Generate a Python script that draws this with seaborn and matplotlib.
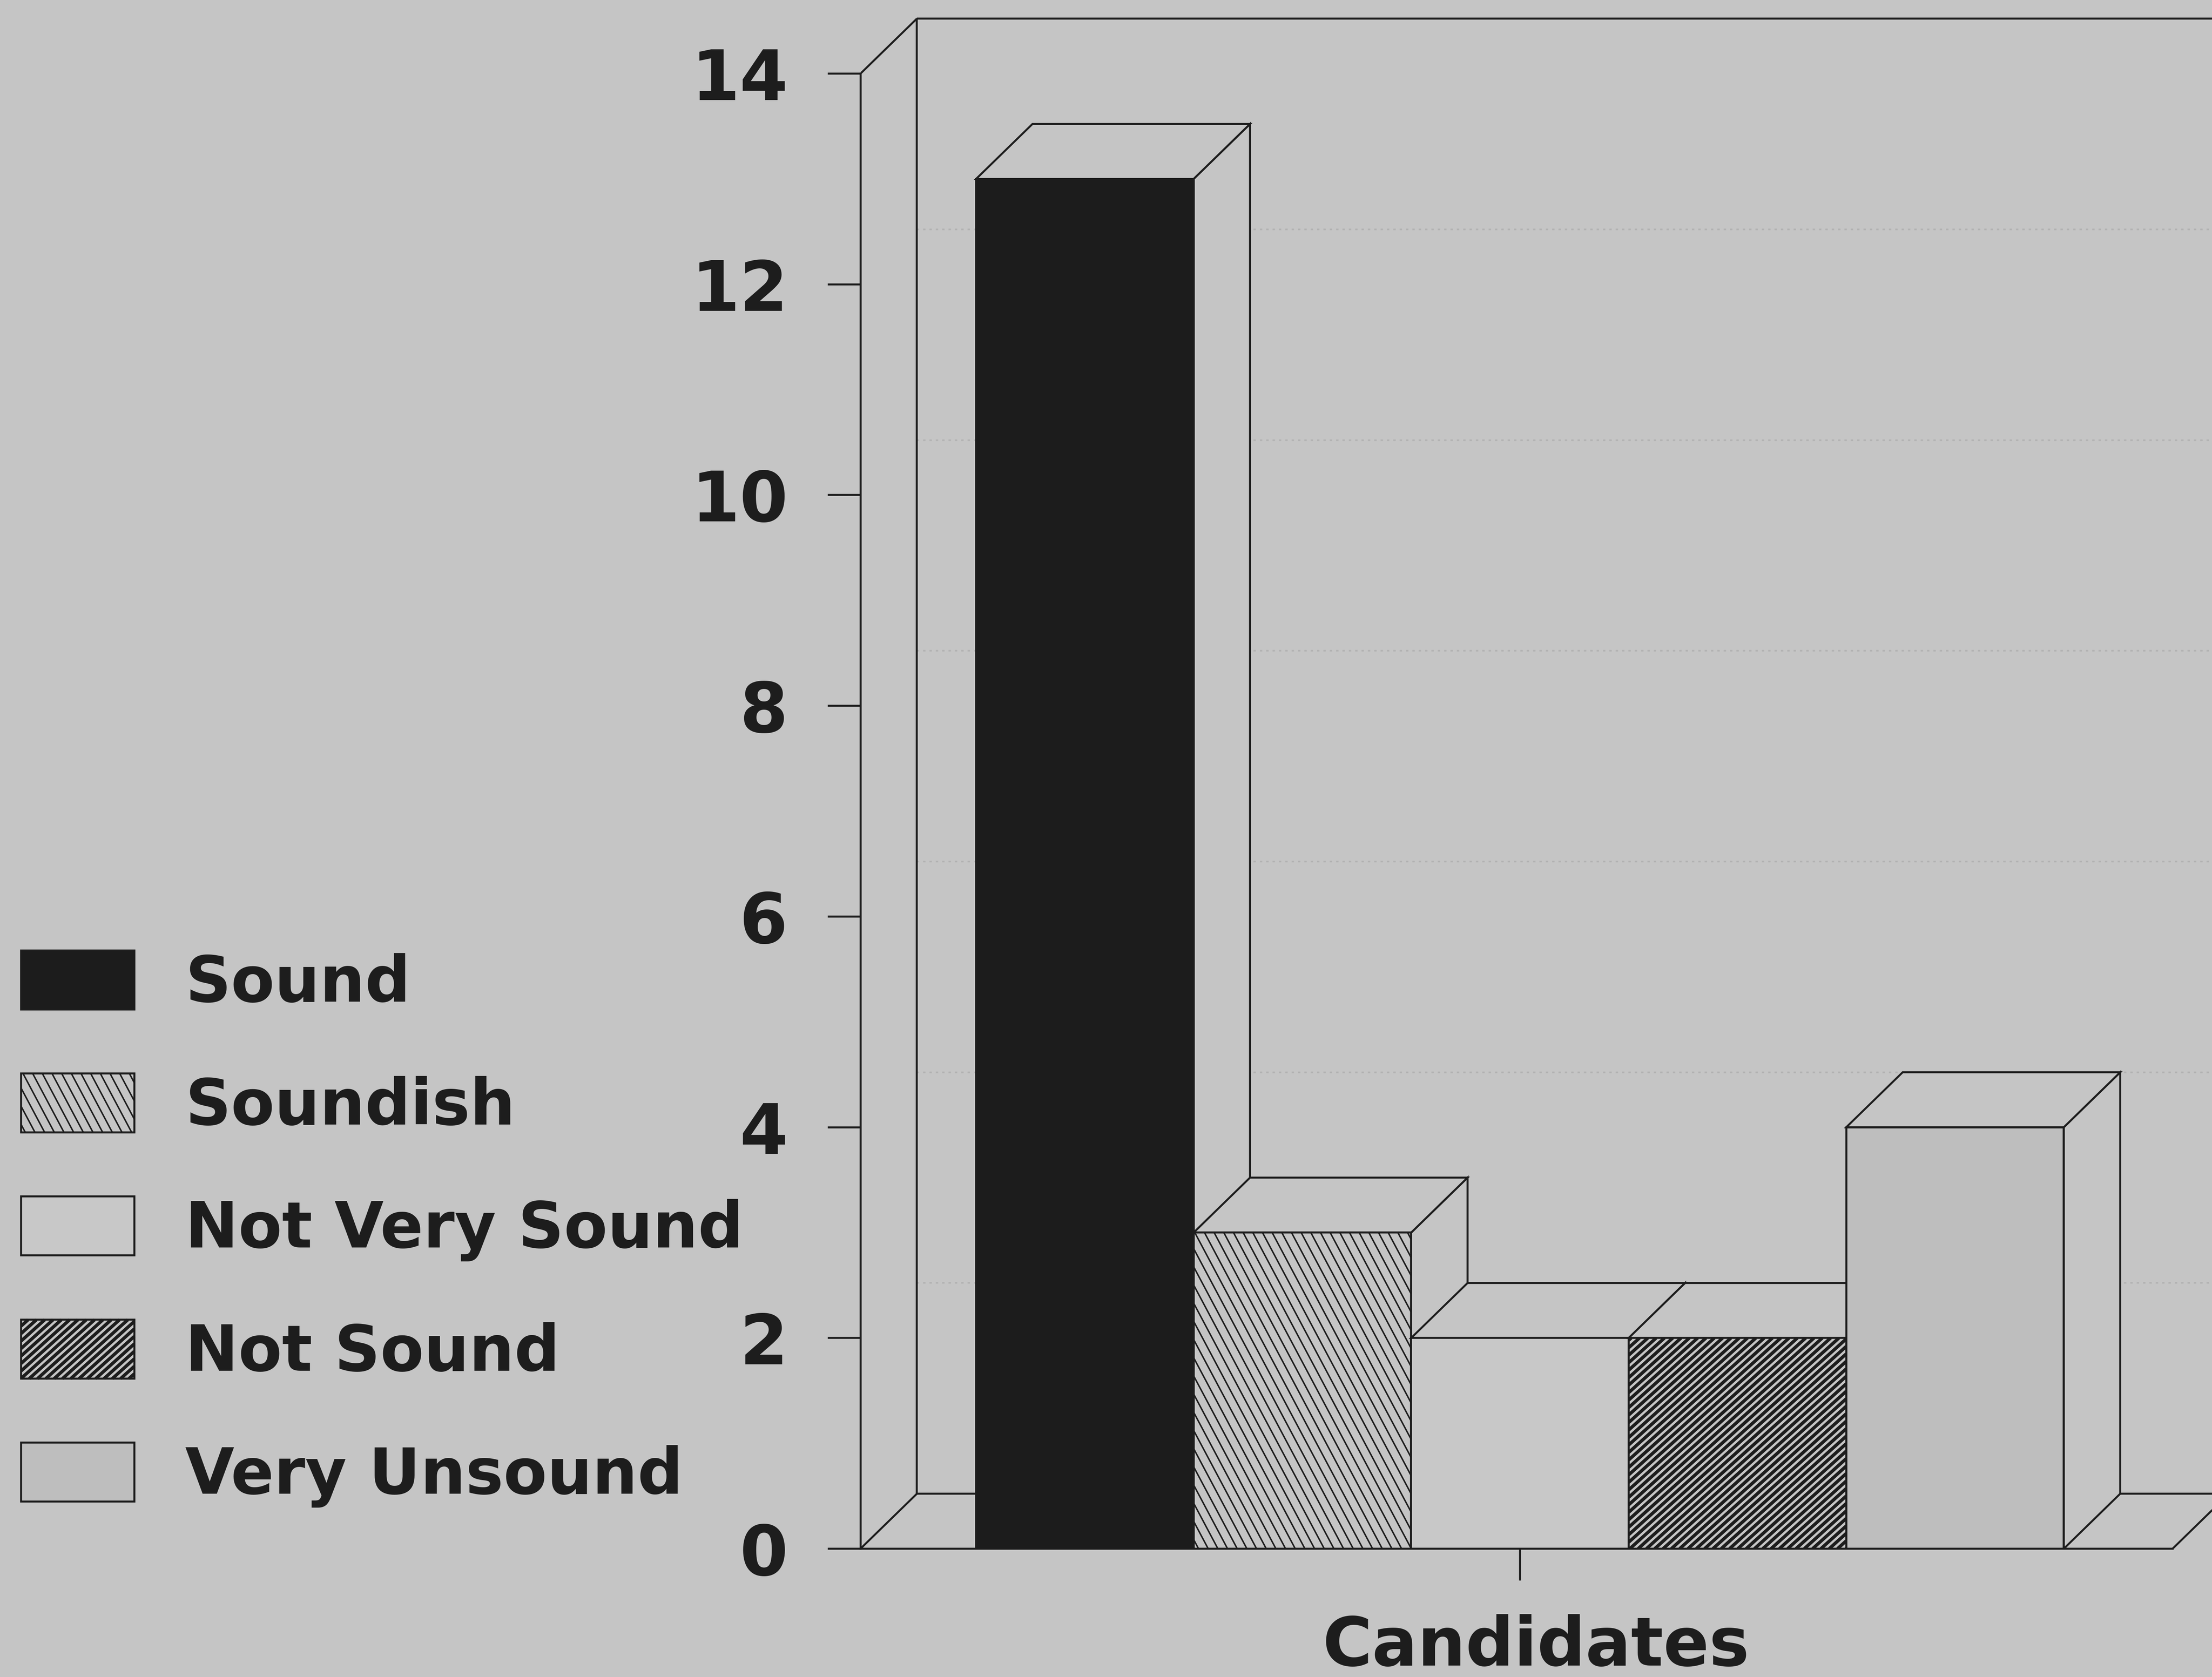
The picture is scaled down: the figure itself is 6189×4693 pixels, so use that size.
import numpy as np
import pandas as pd
import matplotlib
matplotlib.use("Agg")
import matplotlib.pyplot as plt
from matplotlib.patches import Polygon, Rectangle, Patch
from matplotlib.collections import LineCollection
from matplotlib.legend_handler import HandlerBase
import seaborn as sns

# ---- data -------------------------------------------------------------
ratings = ["Sound", "Soundish", "Not Very Sound", "Not Sound", "Very Unsound"]
counts = [13, 3, 2, 2, 4]
group = "Candidates"
y_ticks = [0, 2, 4, 6, 8, 10, 12, 14]

# ---- style ------------------------------------------------------------
BG = "#c5c5c5"
INK = "#1d1d1d"
face_colors = {
    "Sound": "#1c1c1c",
    "Soundish": BG,
    "Not Very Sound": "#c8c8c8",
    "Not Sound": BG,
    "Very Unsound": "#bebebe",
}
# line-hatch fills: (angle in degrees, spacing in pt, line width in pt)
hatches = {"Soundish": (-62, 4.3, 0.75), "Not Sound": (42, 2.8, 1.65)}

DPI = 400
sns.set_style("white")
plt.rcParams["font.family"] = ["DejaVu Sans"]
plt.rcParams["font.weight"] = "bold"
plt.rcParams["text.color"] = INK


def hatch_segments(x0, y0, w, h, angle, spacing):
    """Parallel line segments filling the rectangle (x0, y0, w, h)."""
    a = np.deg2rad(angle)
    d = np.array([np.cos(a), np.sin(a)])
    n = np.array([-d[1], d[0]])
    corners = np.array([[x0, y0], [x0 + w, y0], [x0, y0 + h], [x0 + w, y0 + h]])
    proj = corners @ n
    segs = []
    start = np.floor(proj.min() / spacing) * spacing
    for c in np.arange(start, proj.max() + spacing, spacing):
        base = c * n
        tmin, tmax = -np.inf, np.inf
        for k, (lo, hi) in enumerate([(x0, x0 + w), (y0, y0 + h)]):
            if abs(d[k]) < 1e-12:
                if not (lo <= base[k] <= hi):
                    tmin, tmax = 1.0, 0.0
                continue
            t1 = (lo - base[k]) / d[k]
            t2 = (hi - base[k]) / d[k]
            tmin = max(tmin, min(t1, t2))
            tmax = min(tmax, max(t1, t2))
        if tmax > tmin:
            segs.append([base + tmin * d, base + tmax * d])
    return segs


class HatchHandler(HandlerBase):
    def create_artists(self, legend, orig_handle, xdescent, ydescent,
                       width, height, fontsize, trans):
        x0, y0 = -xdescent, -ydescent
        rect = Rectangle((x0, y0), width, height,
                         facecolor=orig_handle.get_facecolor(),
                         edgecolor=INK, lw=1.0, transform=trans)
        arts = [rect]
        spec = hatches.get(orig_handle.get_label())
        if spec:
            segs = hatch_segments(x0, y0, width, height, spec[0], spec[1])
            arts.append(LineCollection(segs, colors=INK, linewidths=spec[2],
                                       transform=trans))
        return arts


fig = plt.figure(figsize=(6189 / DPI, 4693 / DPI), dpi=DPI)
fig.patch.set_facecolor(BG)
ax = fig.add_axes([0.389, 0.0765, 0.611, 0.9173])
ax.set_facecolor(BG)

df = pd.DataFrame({"group": [group] * len(ratings), "rating": ratings, "count": counts})
sns.barplot(data=df, x="group", y="count", hue="rating", hue_order=ratings,
            palette=face_colors, saturation=1, width=0.8, errorbar=None,
            edgecolor=INK, linewidth=1.0, legend=False, ax=ax)

X0, X1 = -0.485, 0.509      # axes x-range
XF = 0.480                  # right end of the floor's front edge
DX, DY = 0.0415, 0.522      # depth offset of the pseudo-3D projection
ax.set_xlim(X0, X1)
ax.set_ylim(0, 14.6)

# back wall, floor and their faint grid
line_kw = dict(color=INK, lw=1.0, solid_capstyle="butt", zorder=1.5)
ax.plot([X0 + DX, X0 + DX], [DY, y_ticks[-1] + DY], **line_kw)
ax.plot([X0, X0 + DX], [y_ticks[-1], y_ticks[-1] + DY], **line_kw)
ax.plot([X0 + DX, X1], [y_ticks[-1] + DY] * 2, **line_kw)
ax.plot([X0, X0 + DX], [0, DY], **line_kw)
ax.plot([X0 + DX, X1], [DY, DY], **line_kw)
ax.plot([XF, XF + DX], [0, DY], **line_kw)
for v in y_ticks[1:-1]:
    ax.plot([X0 + DX, X1], [v + DY] * 2, color="#b2b2b2", lw=0.8,
            ls=(0, (1.5, 2.5)), zorder=1)

# extrude every bar: side and top faces, plus line-hatch on the front face
bars = sorted(ax.patches, key=lambda p: p.get_x())
to_px = ax.transData
to_data = ax.transData.inverted()
for i, (p, name) in enumerate(zip(bars, ratings)):
    x, w, h = p.get_x(), p.get_width(), p.get_height()
    z = 3 + i
    p.set_zorder(z + 0.2)
    p.set_edgecolor(INK)
    side = Polygon([(x + w, 0), (x + w + DX, DY), (x + w + DX, h + DY), (x + w, h)],
                   closed=True, facecolor=BG, edgecolor=INK, lw=1.0, zorder=z)
    top = Polygon([(x, h), (x + w, h), (x + w + DX, h + DY), (x + DX, h + DY)],
                  closed=True, facecolor=BG, edgecolor=INK, lw=1.0, zorder=z + 0.1)
    ax.add_patch(side)
    ax.add_patch(top)
    if name in hatches:
        ang, sp, lw = hatches[name]
        (px0, py0), (px1, py1) = to_px.transform([(x, 0), (x + w, h)])
        segs = hatch_segments(px0, py0, px1 - px0, py1 - py0, ang, sp * DPI / 72)
        segs = [to_data.transform(np.array(s)) for s in segs]
        lc = LineCollection(segs, colors=INK, linewidths=lw, zorder=z + 0.3)
        ax.add_collection(lc)
        lc.set_clip_path(p)

# axes
for s in ("top", "right"):
    ax.spines[s].set_visible(False)
for s in ("left", "bottom"):
    ax.spines[s].set_color(INK)
    ax.spines[s].set_linewidth(1.0)
ax.spines["left"].set_bounds(0, y_ticks[-1])
ax.spines["bottom"].set_bounds(X0, XF)
ax.set_yticks(y_ticks)
ax.set_xticks([0])
ax.set_xticklabels([""])
ax.tick_params(axis="y", left=True, direction="out", length=16.5, width=1.0,
               color=INK, pad=20, labelsize=35, labelcolor=INK)
ax.tick_params(axis="x", bottom=True, direction="out", length=16, width=1.0,
               color=INK, pad=0)
for lab in ax.get_yticklabels():
    lab.set_fontweight("bold")
ax.set_ylabel("")
ax.set_xlabel(group, fontsize=34, fontweight="bold", color=INK, labelpad=17)

handles = [Patch(facecolor=face_colors[r], label=r) for r in ratings]
fig.legend(handles=handles, loc="upper left", bbox_to_anchor=(15 / 1568, 1 - 674 / 1189),
           frameon=False, prop={"size": 32, "weight": "bold"}, handlelength=1.78,
           handleheight=1.05, handletextpad=0.8, labelspacing=0.92, borderpad=0,
           borderaxespad=0, handler_map={Patch: HatchHandler()}, labelcolor=INK)

fig.savefig("out.png", dpi=DPI, facecolor=BG)
